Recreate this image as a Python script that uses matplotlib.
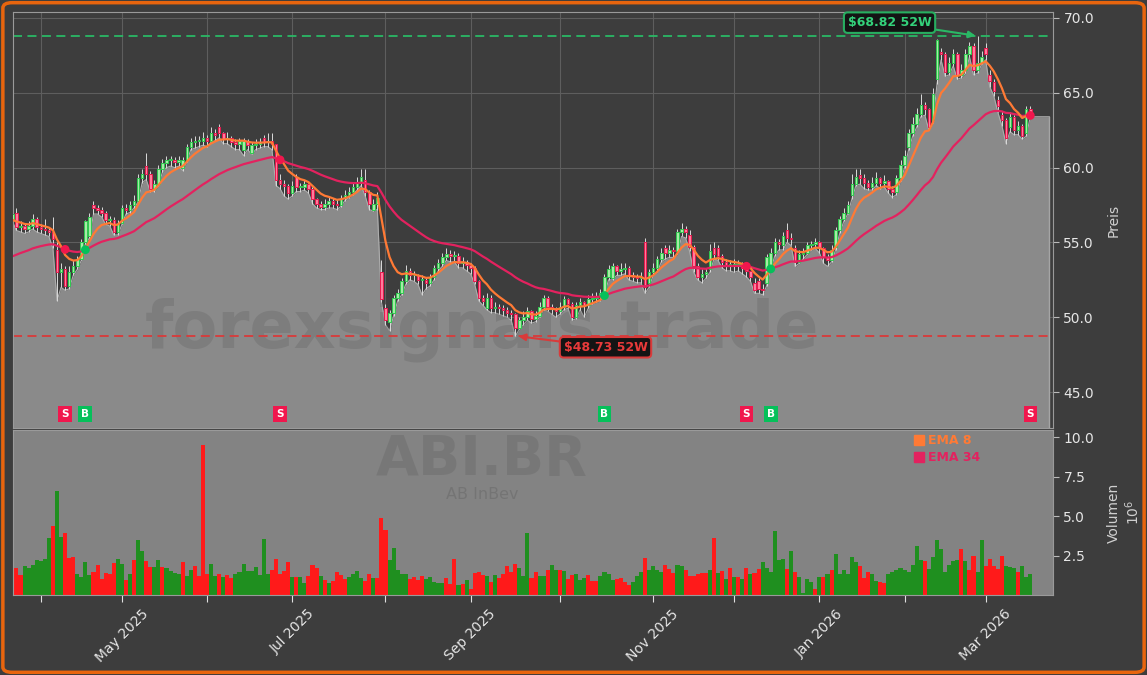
import numpy as np
import pandas as pd
import matplotlib
matplotlib.use("Agg")
import matplotlib.pyplot as plt
import matplotlib.transforms as mtransforms
from matplotlib.lines import Line2D
from matplotlib.patches import FancyBboxPatch

# ---------------- data ----------------
ticker = "ABI.BR"
company = "AB InBev"
watermark = "forexsignals.trade"
start_date = "2025-03-21"
holidays = ["2025-04-18", "2025-04-21", "2025-05-01",
            "2025-12-25", "2025-12-26", "2026-01-01"]

close = [56.9,
    56.0, 56.1, 55.9, 56.1, 56.6, 56.0, 55.9, 55.8, 55.7, 55.2,
    53.0, 53.2, 52.1, 53.0, 53.4, 53.9, 55.0, 56.4, 56.7, 57.3,
    57.2, 57.0, 56.5, 56.5, 55.7, 56.3, 57.3, 57.2, 57.5, 57.8,
    59.3, 59.6, 59.6, 58.6, 58.9, 59.9, 60.3, 60.5, 60.5, 60.4,
    60.5, 60.5, 61.4, 61.7, 61.8, 61.8, 62.0, 61.8, 62.3, 62.2,
    62.3, 61.9, 62.0, 61.7, 61.6, 61.8, 61.8, 61.5, 61.5, 61.6,
    61.7, 61.7, 61.8, 61.6, 59.2, 58.9, 58.8, 58.3, 58.8, 58.7,
    58.7, 58.9, 58.6, 57.9, 57.6, 57.4, 57.6, 57.8, 57.6, 57.5,
    58.0, 58.2, 58.4, 58.7, 59.0, 59.4, 58.4, 57.6, 57.6, 58.0,
    51.2, 49.8, 50.3, 51.3, 51.6, 52.4, 53.1, 52.8, 52.8, 52.5,
    52.5, 52.3, 52.7, 53.3, 53.6, 54.0, 54.2, 54.1, 54.1, 53.6,
    53.7, 53.5, 53.3, 52.4, 51.3, 51.1, 51.3, 50.6, 50.7, 50.6,
    50.5, 50.3, 50.2, 49.3, 49.8, 50.0, 50.4, 49.9, 50.1, 50.7,
    51.3, 50.7, 50.6, 50.4, 50.7, 51.2, 50.9, 50.0, 50.8, 51.0,
    50.8, 51.2, 51.3, 51.4, 51.6, 52.7, 53.2, 53.4, 53.1, 53.2,
    53.3, 52.8, 52.7, 52.6, 52.7, 52.0, 53.0, 53.3, 53.9, 54.3,
    54.3, 54.5, 54.4, 55.7, 55.9, 55.7, 54.7, 53.4, 52.7, 52.9,
    53.0, 54.4, 54.2, 54.1, 53.7, 53.5, 53.5, 53.5, 53.5, 53.3,
    53.1, 52.7, 51.8, 51.9, 51.8, 54.0, 54.3, 55.0, 54.9, 55.4,
    55.3, 55.2, 53.7, 54.2, 54.3, 54.8, 54.9, 55.0, 54.6, 54.0,
    53.8, 54.5, 55.8, 56.6, 57.0, 57.5, 58.9, 59.4, 59.3, 59.0,
    58.7, 59.0, 59.3, 59.0, 59.1, 58.6, 58.4, 59.3, 60.2, 60.8,
    62.3, 62.9, 63.6, 64.2, 63.9, 62.7, 64.9, 68.5, 67.6, 66.4,
    67.0, 67.6, 66.2, 66.5, 67.6, 68.1, 66.5, 67.0, 67.4, 67.6,
    65.8, 65.1, 64.1, 63.2, 62.0, 63.4, 62.5, 62.8, 62.1, 63.9,
    63.6]

low = [56.4,
    55.8, 55.7, 55.6, 55.7, 55.9, 55.7, 55.6, 55.5, 55.4, 54.6,
    51.1, 52.0, 51.8, 51.9, 52.8, 53.2, 53.8, 54.9, 55.3, 56.9,
    56.9, 56.7, 56.2, 56.1, 55.5, 55.5, 56.2, 56.9, 57.0, 57.3,
    57.7, 59.0, 59.2, 58.4, 58.4, 58.8, 59.7, 60.0, 60.1, 60.0,
    60.1, 59.8, 60.4, 61.2, 61.3, 61.4, 61.5, 61.4, 61.7, 61.8,
    62.0, 61.6, 61.6, 61.4, 61.2, 61.2, 60.8, 61.2, 60.9, 61.2,
    61.3, 61.4, 61.4, 61.2, 58.8, 58.6, 58.1, 57.9, 58.1, 58.4,
    58.4, 58.5, 58.3, 57.6, 57.3, 57.2, 57.2, 57.3, 57.3, 57.2,
    57.4, 57.8, 58.0, 58.2, 58.5, 58.8, 58.1, 57.2, 57.1, 57.2,
    51.0, 49.5, 49.1, 50.1, 51.1, 51.5, 52.2, 52.5, 52.4, 52.2,
    51.5, 51.9, 52.1, 52.5, 53.1, 53.4, 53.8, 53.7, 53.7, 53.3,
    53.3, 53.1, 52.9, 52.2, 51.1, 50.8, 50.5, 50.3, 50.3, 50.2,
    50.1, 50.0, 49.8, 48.73, 49.2, 49.5, 49.8, 49.6, 49.7, 50.0,
    50.5, 50.4, 50.2, 50.0, 50.2, 50.5, 50.6, 49.8, 49.9, 50.5,
    50.0, 50.6, 50.9, 51.0, 51.1, 51.5, 52.5, 52.5, 52.8, 52.8,
    52.9, 52.5, 52.4, 52.3, 52.3, 51.6, 52.0, 52.8, 53.0, 53.7,
    53.9, 54.0, 54.0, 54.2, 55.4, 55.3, 54.4, 53.0, 52.5, 52.3,
    52.6, 53.0, 53.9, 53.8, 53.3, 53.1, 53.1, 53.0, 53.1, 52.9,
    52.7, 52.4, 51.6, 51.6, 51.5, 52.1, 53.2, 54.1, 54.5, 54.5,
    55.0, 54.8, 53.4, 53.6, 53.9, 54.2, 54.5, 54.6, 54.3, 53.6,
    53.4, 53.7, 54.5, 55.6, 56.4, 56.9, 57.9, 58.8, 58.9, 58.6,
    58.5, 58.5, 58.8, 58.6, 58.7, 58.3, 58.0, 58.2, 59.1, 60.0,
    61.2, 62.1, 62.7, 63.4, 63.5, 62.5, 63.0, 65.6, 67.2, 66.1,
    66.2, 66.8, 65.9, 66.0, 66.3, 67.4, 66.2, 66.3, 66.9, 67.2,
    65.4, 64.8, 63.7, 62.8, 61.6, 62.4, 62.2, 62.2, 61.9, 62.1,
    63.4]

high = [57.1,
    57.3, 56.4, 56.3, 56.4, 56.9, 56.7, 56.2, 56.6, 56.0, 56.7,
    55.0, 53.6, 53.4, 53.4, 53.8, 54.1, 55.2, 56.5, 57.0, 57.8,
    57.5, 57.4, 57.1, 56.8, 56.7, 56.5, 57.5, 57.6, 57.8, 58.2,
    59.6, 59.9, 61.0, 59.8, 59.2, 60.2, 60.6, 60.8, 60.8, 60.7,
    60.8, 60.7, 61.6, 62.0, 62.1, 62.1, 62.4, 62.2, 62.7, 62.6,
    62.9, 62.4, 62.4, 62.1, 61.9, 62.0, 62.0, 61.9, 61.7, 61.9,
    62.0, 62.2, 62.3, 62.3, 61.6, 59.6, 59.2, 58.9, 59.1, 59.6,
    59.0, 59.2, 59.0, 58.7, 58.0, 57.8, 57.9, 58.1, 58.0, 57.9,
    58.2, 58.5, 58.7, 59.0, 59.4, 59.9, 59.9, 58.5, 57.9, 58.4,
    53.8, 50.9, 50.5, 51.5, 51.9, 52.6, 53.5, 53.3, 53.1, 52.9,
    52.8, 52.6, 52.9, 53.5, 53.9, 54.3, 54.6, 54.5, 54.4, 54.3,
    54.0, 53.8, 53.6, 53.4, 52.5, 51.5, 51.6, 51.5, 51.0, 50.9,
    50.8, 50.7, 50.5, 50.3, 50.0, 50.4, 50.7, 50.5, 50.4, 51.0,
    51.5, 51.4, 50.9, 50.7, 51.0, 51.4, 51.3, 51.0, 51.0, 51.3,
    51.1, 51.5, 51.6, 51.7, 51.9, 52.9, 53.5, 53.6, 53.5, 53.6,
    53.6, 53.4, 53.0, 52.9, 53.0, 55.3, 53.2, 53.6, 54.1, 54.6,
    54.8, 54.8, 54.7, 55.9, 56.3, 56.1, 55.8, 54.8, 53.6, 53.2,
    53.3, 54.9, 55.0, 54.8, 54.2, 53.9, 53.8, 53.9, 53.8, 53.7,
    53.7, 53.1, 52.6, 52.6, 52.2, 54.2, 54.6, 55.3, 55.2, 55.7,
    56.3, 55.6, 54.8, 54.5, 54.6, 55.0, 55.1, 55.3, 55.1, 54.7,
    54.2, 54.8, 56.0, 56.8, 57.3, 57.8, 59.6, 59.9, 59.9, 59.6,
    59.2, 59.4, 59.7, 59.4, 59.5, 59.2, 58.8, 59.5, 60.5, 61.2,
    62.6, 63.4, 64.0, 64.9, 64.4, 64.0, 65.3, 68.6, 68.0, 67.7,
    67.4, 67.9, 67.7, 66.9, 67.9, 68.4, 68.3, 68.82, 67.8, 68.3,
    66.5, 65.9, 64.8, 63.8, 63.3, 63.7, 63.5, 63.1, 62.9, 64.1,
    64.1]

first_open = 56.6
# sessions whose open differs from the previous close (index: open)
open_gaps = {1: 57.0, 11: 54.5, 19: 55.4, 20: 57.5, 33: 60.1, 42: 60.0,
             51: 62.7, 57: 61.2, 59: 61.0, 62: 62.0, 70: 59.4, 87: 59.2,
             89: 57.2, 91: 53.0, 92: 50.6, 93: 49.7, 117: 50.6, 148: 52.6,
             156: 55.0, 157: 52.3, 161: 54.6, 167: 55.5, 172: 53.2,
             173: 54.6, 174: 54.6, 181: 53.5, 183: 52.3, 184: 52.4,
             186: 52.3, 187: 53.4, 190: 54.8, 191: 55.8, 193: 54.6,
             203: 54.7, 207: 58.2, 209: 59.5, 221: 61.4, 227: 63.2,
             228: 65.9, 229: 67.7, 240: 68.0, 241: 66.2, 242: 65.7,
             243: 64.5, 244: 63.5, 246: 62.7, 250: 62.3}

# volume in millions
volume = [
    6.86, 1.72, 1.26, 1.83, 1.68, 1.89, 2.2, 2.16, 2.26, 3.6,
    4.34, 6.6, 3.7, 3.9, 2.35, 2.4, 1.36, 1.15, 2.07, 1.26,
    1.47, 1.89, 0.99, 1.41, 1.32, 2.03, 2.26, 1.99, 0.94, 1.32,
    2.2, 3.46, 2.79, 2.14, 1.78, 1.78, 2.2, 1.78, 1.72, 1.53,
    1.41, 1.32, 2.07, 1.22, 1.57, 1.83, 1.22, 9.5, 1.32, 1.95,
    1.22, 1.32, 1.15, 1.26, 1.09, 1.36, 1.43, 1.95, 1.53, 1.53,
    1.78, 1.26, 3.53, 1.36, 1.57, 2.26, 1.36, 1.53, 2.07, 1.15,
    1.15, 1.15, 0.78, 1.22, 1.89, 1.72, 1.22, 0.94, 0.78, 0.9,
    1.43, 1.26, 1.01, 1.15,
    1.32, 1.51, 1.09, 0.88, 1.32, 1.05, 1.09, 4.9, 4.09, 2.2,
    2.96, 1.57, 1.32, 1.32, 1.01, 1.15, 0.94, 1.22, 1.01, 1.15,
    0.84, 0.78, 0.73, 1.09, 0.69, 2.26, 0.63, 0.69, 0.94, 0.38,
    1.41, 1.45, 1.26, 1.2, 0.82, 1.26, 1.09, 1.36, 1.83, 1.47,
    1.99, 1.68, 1.2, 3.94, 1.09, 1.43, 1.2, 1.2, 1.57, 1.89,
    1.61, 1.57, 1.51, 1.01, 1.26, 1.36, 0.94, 1.05, 1.26, 0.88,
    0.88, 1.2, 1.43, 1.36, 0.94, 1.01, 1.05, 0.84, 0.63, 0.84,
    1.2, 1.43, 2.37, 1.57, 1.83, 1.61, 1.47, 1.89, 1.66, 1.41,
    1.93, 1.84, 1.57, 1.22,
    1.2, 1.32, 1.41, 1.41, 1.57, 3.6, 1.41, 1.53, 1.01, 1.72,
    1.15, 1.15, 1.01, 1.72, 1.32, 1.41, 1.66, 2.1, 1.72, 1.45,
    4.05, 2.2, 2.26, 1.66, 2.79, 1.45, 1.15, 0.1, 1.01, 0.82,
    0.38, 1.15, 1.15, 1.32, 1.61, 2.62, 1.36, 1.61, 1.3, 2.39,
    2.1, 1.83, 1.09, 1.43, 1.36, 0.88, 0.8, 0.73, 1.36, 1.47,
    1.61, 1.74, 1.57, 1.47, 1.89, 3.08, 2.2, 2.14, 1.66, 2.39,
    3.46, 2.89, 1.45, 1.89, 2.14, 2.2, 2.89, 2.14, 1.61, 2.47,
    1.45, 3.46, 1.83, 2.26, 1.83, 1.66, 2.47, 1.83, 1.78, 1.72,
    1.45, 1.83, 1.15, 1.36]

volume_dir = ("grrggggggg" "rggrrrgggg" "rrrrrrggrg" "rggrrggrgg" "ggrggrrrrg"
              "grgrrggggg" "ggggrrrrrg" "rggrrrgrgr" "rrrg"
              "gggrrgrrrg" "ggggrrrrgg" "gggrrrgrgr" "rrrgrgrrrr" "rgggrrggrg"
              "grgrrgggrr" "rggggrrrrg" "ggrggggrrr" "ggrr"
              "rrrrgrgrgr" "grgrgrrggg" "gggrgrgggg" "rgrgrggggg" "grrrggrrgg"
              "gggggggrgg" "ggggggrgrr" "ggrrrrrggg" "rggg")

ema8_seed = 56.4
ema34_seed = 53.9
signal_idx = [13, 18, 66, 146, 181, 187, 251]
signal_type = ["S", "B", "S", "B", "S", "B", "S"]

high52, high52_idx = 68.82, 238
low52, low52_idx = 48.73, 124

# ---------------- derived ----------------
N = len(close)
x = np.arange(N)
c = np.array(close)
o = np.array([first_open] + close[:-1])
for k, v in open_gaps.items():
    o[k] = v
lo = np.array(low)
hi = np.array(high)
vol = np.array(volume)


def ema(values, span, seed):
    a = 2.0 / (span + 1)
    out, prev = [], seed
    for v in values:
        prev = prev + a * (v - prev)
        out.append(prev)
    return np.array(out)


ema8 = ema(c, 8, ema8_seed)
ema34 = ema(c, 34, ema34_seed)

cbd = pd.offsets.CustomBusinessDay(holidays=holidays)
dates = pd.date_range(start_date, periods=N, freq=cbd)
tick_pos = [i for i in range(1, N) if dates[i].month != dates[i - 1].month]
tick_lab = [dates[i].strftime("%b %Y") if dates[i].month % 2 == 1 else ""
            for i in tick_pos]

# ---------------- style ----------------
W, H = 1147, 675
BG = "#3d3d3d"
FILL = "#8a8a8a"
VOLBG = "#838383"
C_EMA8 = "#ff7a35"
C_EMA34 = "#e3225f"
UP_FACE, UP_EDGE = "#a6eba6", "#2fc94f"
DN_FACE, DN_EDGE = "#ff7c9c", "#e8194f"
TXT = "#e6e6e6"
SPINE = "#9a9a9a"

fig = plt.figure(figsize=(W / 100, H / 100), dpi=100, facecolor=BG)
ax = fig.add_axes([13 / W, 1 - 428 / H, 1040 / W, 416 / H], facecolor=BG)
axv = fig.add_axes([13 / W, 1 - 595 / H, 1040 / W, 165 / H], facecolor=VOLBG,
                   sharex=ax)

xl = (0.15, 256.6)
x_end = 255.7

# price area (lows) fill
xf = np.append(x, x_end)
lf = np.append(lo, lo[-1])
ax.fill_between(xf, lf, 30, color=FILL, zorder=1, lw=0)
ax.plot(xf, lf, color="#adadad", lw=0.8, zorder=1.5)
ax.plot([x_end, x_end], [lo[-1], 30], color="#a5a5a5", lw=1.0, zorder=1.5)

ax.text(0.451, 0.235, watermark, transform=ax.transAxes, ha="center",
        va="center", fontsize=47, fontweight="bold", color="#4a4a4a",
        alpha=0.2, zorder=1.8)

# candles
ax.vlines(x, lo, hi, color="#dadada", lw=0.7, zorder=2)
up = c >= o
body_bot = np.minimum(o, c)
body_h = np.maximum(np.abs(c - o), 0.05)
ax.bar(x[up], body_h[up], bottom=body_bot[up], width=0.62,
       color=UP_FACE, edgecolor=UP_EDGE, linewidth=0.7, zorder=3)
ax.bar(x[~up], body_h[~up], bottom=body_bot[~up], width=0.62,
       color=DN_FACE, edgecolor=DN_EDGE, linewidth=0.7, zorder=3)

# EMAs
ax.plot(x, ema34, color=C_EMA34, lw=1.6, zorder=4)
ax.plot(x, ema8, color=C_EMA8, lw=1.6, zorder=4.2)

# 52W lines
ax.axhline(high52, color="#2ab865", ls=(0, (5, 3)), lw=1.3, zorder=2.5)
ax.axhline(low52, color="#d93a3a", ls=(0, (5, 3)), lw=1.3, zorder=2.5)

ax.annotate(f"${high52:.2f} 52W", xy=(high52_idx - 0.5, high52),
            xytext=(-86, 13), textcoords="offset pixels",
            ha="center", va="center", color="#33d17a", fontsize=9,
            fontweight="bold",
            bbox=dict(boxstyle="round,pad=0.3,rounding_size=0.3",
                      fc="#141414", ec="#27ae60", lw=1.5),
            arrowprops=dict(arrowstyle="-|>", color="#2ab865", lw=1.5,
                            mutation_scale=10, shrinkA=0, shrinkB=0),
            zorder=7)
ax.annotate(f"${low52:.2f} 52W", xy=(low52_idx + 0.8, low52),
            xytext=(87, -11), textcoords="offset pixels",
            ha="center", va="center", color="#e83a3a", fontsize=9,
            fontweight="bold",
            bbox=dict(boxstyle="round,pad=0.3,rounding_size=0.3",
                      fc="#141414", ec="#d93a3a", lw=1.5),
            arrowprops=dict(arrowstyle="-|>", color="#d93a3a", lw=1.5,
                            mutation_scale=10, shrinkA=0, shrinkB=0),
            zorder=7)

# signals
trans = mtransforms.blended_transform_factory(ax.transData, ax.transAxes)
for i, t in zip(signal_idx, signal_type):
    col = "#f0174d" if t == "S" else "#05c05a"
    ax.scatter([i], [ema34[i]], s=40, color=col, zorder=6, edgecolors="none")
    ax.text(i, 0.034, t, transform=trans, ha="center", va="center",
            color="white", fontsize=7.5, fontweight="bold", zorder=6,
            bbox=dict(boxstyle="square,pad=0.28", fc=col, ec="none"))

ax.set_xlim(*xl)
ax.set_ylim(42.6, 70.4)
ax.yaxis.tick_right()
ax.yaxis.set_label_position("right")
ax.set_yticks([45, 50, 55, 60, 65, 70])
ax.set_yticklabels([f"{v:.1f}" for v in [45, 50, 55, 60, 65, 70]])
ax.set_ylabel("Preis", color="#d0d0d0", fontsize=10, labelpad=9)
ax.tick_params(axis="y", colors="#bbbbbb", labelcolor=TXT, labelsize=10,
               length=4, width=0.8)
ax.tick_params(axis="x", length=0, labelbottom=False)
ax.grid(True, color="#5e5e5e", lw=0.8)
ax.set_axisbelow(True)
for s in ax.spines.values():
    s.set_color(SPINE)
    s.set_linewidth(0.8)

# volume
vcols = ["#1f8f1f" if d == "g" else "#ff1a1a" for d in volume_dir]
axv.bar(x, vol, width=1.0, color=vcols, linewidth=0, zorder=2)
axv.text(0.451, 0.82, ticker, transform=axv.transAxes, ha="center",
         va="center", fontsize=40, fontweight="bold", color="#4a4a4a",
         alpha=0.2, zorder=1)
axv.text(0.451, 0.61, company, transform=axv.transAxes, ha="center",
         va="center", fontsize=11.5, color="#4a4a4a", alpha=0.25, zorder=1)
axv.set_ylim(0, 10.45)
axv.yaxis.tick_right()
axv.yaxis.set_label_position("right")
axv.set_yticks([2.5, 5.0, 7.5, 10.0])
axv.set_yticklabels(["2.5", "5.0", "7.5", "10.0"])
axv.set_ylabel("Volumen\n$10^{6}$", color="#d0d0d0", fontsize=10, labelpad=9)
axv.tick_params(axis="y", colors="#bbbbbb", labelcolor=TXT, labelsize=10,
                length=4, width=0.8)
axv.set_xticks(tick_pos)
axv.set_xticklabels(tick_lab, rotation=45, ha="center")
axv.tick_params(axis="x", colors="#e0e0e0", labelcolor=TXT, labelsize=10,
                length=5, width=0.8)
for s in axv.spines.values():
    s.set_color(SPINE)
    s.set_linewidth(0.8)
axv.set_xlim(*xl)

handles = [Line2D([], [], marker="s", ls="none", color=C_EMA8, markersize=7,
                  label="EMA 8"),
           Line2D([], [], marker="s", ls="none", color=C_EMA34, markersize=7,
                  label="EMA 34")]
fig.legend(handles=handles, loc="upper left",
           bbox_to_anchor=(908 / W, 1 - 429 / H), frameon=False,
           labelcolor=[C_EMA8, C_EMA34],
           prop={"weight": "bold", "size": 9}, handletextpad=0.2,
           labelspacing=0.35, borderaxespad=0, handlelength=1.0)

fig.patches.append(FancyBboxPatch((0.0025, 0.004), 0.995, 0.992,
                                  boxstyle="round,pad=0,rounding_size=0.008",
                                  transform=fig.transFigure, fill=False,
                                  ec="#e8650e", lw=2.5))

fig.savefig("out.png", dpi=100, facecolor=BG)
